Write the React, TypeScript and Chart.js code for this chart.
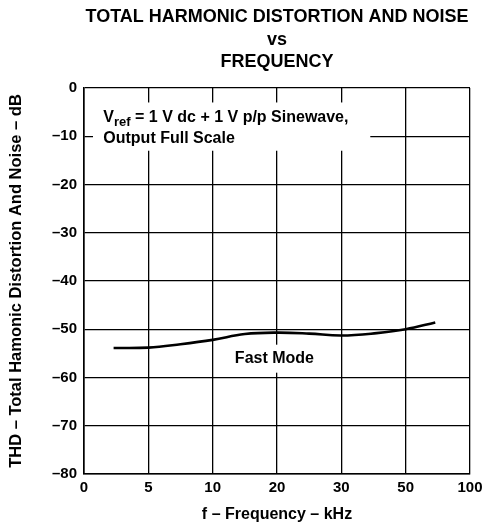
import { useEffect, useRef } from "react";
import { Chart, registerables } from "chart.js";

Chart.register(...registerables);

const FONT = '"Liberation Sans", Arial, Helvetica, sans-serif';

// Axis tick labels (x axis is equally spaced, non-linear in kHz)
const xTickKHz = [0, 5, 10, 20, 30, 50, 100];
const xTickLabels = ["0", "5", "10", "20", "30", "50", "100"];
const yMin = -80;
const yMax = 0;
const yStep = 10;

// Series: Fast Mode
const freqKHz = [2.3, 5, 7.5, 10, 15, 20, 25, 30, 41, 50, 73];
const thdDb = [-53.9, -53.8, -53.1, -52.2, -51.0, -50.7, -50.9, -51.3, -50.8, -50.0, -48.6];

const titleLines = ["TOTAL HARMONIC DISTORTION AND NOISE", "vs", "FREQUENCY"];
const xTitle = "f \u2013 Frequency \u2013 kHz";
const yTitle = "THD \u2013 Total Hamonic Distortion And Noise \u2013 dB";
const noteLine1Main = "V";
const noteLine1Sub = "ref";
const noteLine1Rest = " = 1 V dc + 1 V p/p Sinewave,";
const noteLine2 = "Output Full Scale";
const seriesLabel = "Fast Mode";

// map kHz to the equally-spaced axis position
function kHzToPos(f: number): number {
  for (let i = 0; i < xTickKHz.length - 1; i++) {
    const a = xTickKHz[i];
    const b = xTickKHz[i + 1];
    if (f <= b) return i + (f - a) / (b - a);
  }
  return xTickKHz.length - 1;
}

export default function App() {
  const ref = useRef<HTMLCanvasElement>(null);

  useEffect(() => {
    document.body.style.margin = "0";
    const canvas = ref.current;
    if (!canvas) return;

    const annotations = {
      id: "annotations",
      beforeDatasetsDraw(chart: any) {
        const { ctx, scales } = chart;
        const x = scales.x;
        const y = scales.y;
        ctx.save();
        // white box behind the note
        ctx.fillStyle = "#fff";
        const bx0 = x.getPixelForValue(0.14);
        const bx1 = x.getPixelForValue(4.45);
        const by0 = y.getPixelForValue(-3);
        const by1 = y.getPixelForValue(-13);
        ctx.fillRect(bx0, by0, bx1 - bx0, by1 - by0);
        // white box behind series label
        const fx0 = x.getPixelForValue(2.3);
        const fx1 = x.getPixelForValue(3.64);
        const fy0 = y.getPixelForValue(-53.2);
        const fy1 = y.getPixelForValue(-59.0);
        ctx.fillRect(fx0, fy0, fx1 - fx0, fy1 - fy0);

        ctx.fillStyle = "#000";
        ctx.textAlign = "left";
        ctx.textBaseline = "alphabetic";
        const tx = x.getPixelForValue(0.3);
        const ty1 = y.getPixelForValue(-7.1);
        const ty2 = y.getPixelForValue(-11.4);
        ctx.font = `bold 16px ${FONT}`;
        ctx.fillText(noteLine1Main, tx, ty1);
        let cx = tx + ctx.measureText(noteLine1Main).width;
        ctx.font = `bold 13px ${FONT}`;
        ctx.fillText(noteLine1Sub, cx, ty1 + 3.5);
        cx += ctx.measureText(noteLine1Sub).width;
        ctx.font = `bold 16px ${FONT}`;
        ctx.fillText(noteLine1Rest, cx, ty1);
        ctx.fillText(noteLine2, tx, ty2);

        ctx.textAlign = "center";
        ctx.textBaseline = "middle";
        ctx.fillText(seriesLabel, x.getPixelForValue(2.96), y.getPixelForValue(-56.1));
        ctx.restore();
      },
    };

    const chart = new Chart(canvas, {
      type: "line",
      data: {
        datasets: [
          {
            label: seriesLabel,
            data: freqKHz.map((f, i) => ({ x: kHzToPos(f), y: thdDb[i] })),
            borderColor: "#000",
            borderWidth: 2.6,
            pointRadius: 0,
            tension: 0.4,
            fill: false,
          },
        ],
      },
      options: {
        animation: false,
        responsive: true,
        maintainAspectRatio: false,
        layout: { padding: { left: 0, right: 13, top: 0, bottom: 0 } },
        plugins: {
          legend: { display: false },
          tooltip: { enabled: false },
          title: {
            display: true,
            text: titleLines,
            fullSize: false,
            color: "#000",
            font: { family: FONT, size: 18, weight: "bold", lineHeight: 1.25 },
            padding: { top: 6, bottom: 14.5 },
          },
        },
        scales: {
          x: {
            type: "linear",
            min: 0,
            max: xTickKHz.length - 1,
            afterFit(scale: any) {
              scale.height = 50;
              scale.paddingRight = 0;
              scale.paddingLeft = 0;
            },
            afterBuildTicks(scale: any) {
              scale.ticks = xTickLabels.map((_, i) => ({ value: i }));
            },
            ticks: {
              stepSize: 1,
              color: "#000",
              padding: 5,
              font: { family: FONT, size: 15, weight: "bold" },
              callback: (v: any) => xTickLabels[Math.round(Number(v))] ?? "",
              maxRotation: 0,
            },
            grid: { color: "#000", lineWidth: 1.3, drawTicks: false },
            border: { display: true, color: "#000", width: 1.6 },
            title: {
              display: true,
              text: xTitle,
              color: "#000",
              font: { family: FONT, size: 16, weight: "bold" },
              padding: { top: 0, bottom: 0 },
            },
          },
          y: {
            type: "linear",
            min: yMin,
            max: yMax,
            afterFit(scale: any) {
              scale.width = 84;
            },
            ticks: {
              stepSize: yStep,
              color: "#000",
              padding: 7,
              font: { family: FONT, size: 15, weight: "bold" },
              callback: (v: any) => {
                const n = Number(v);
                return n < 0 ? "\u2013" + Math.abs(n) : String(n);
              },
            },
            grid: { color: "#000", lineWidth: 1.3, drawTicks: false },
            border: { display: true, color: "#000", width: 1.6 },
            title: {
              display: true,
              text: yTitle,
              color: "#000",
              font: { family: FONT, size: 16.5, weight: "bold" },
              padding: { top: 7, bottom: 0 },
            },
          },
        },
      },
      plugins: [annotations],
    } as any);

    return () => chart.destroy();
  }, []);

  return (
    <div style={{ position: "relative", width: 483, height: 524 }}>
      <canvas ref={ref} />
    </div>
  );
}
